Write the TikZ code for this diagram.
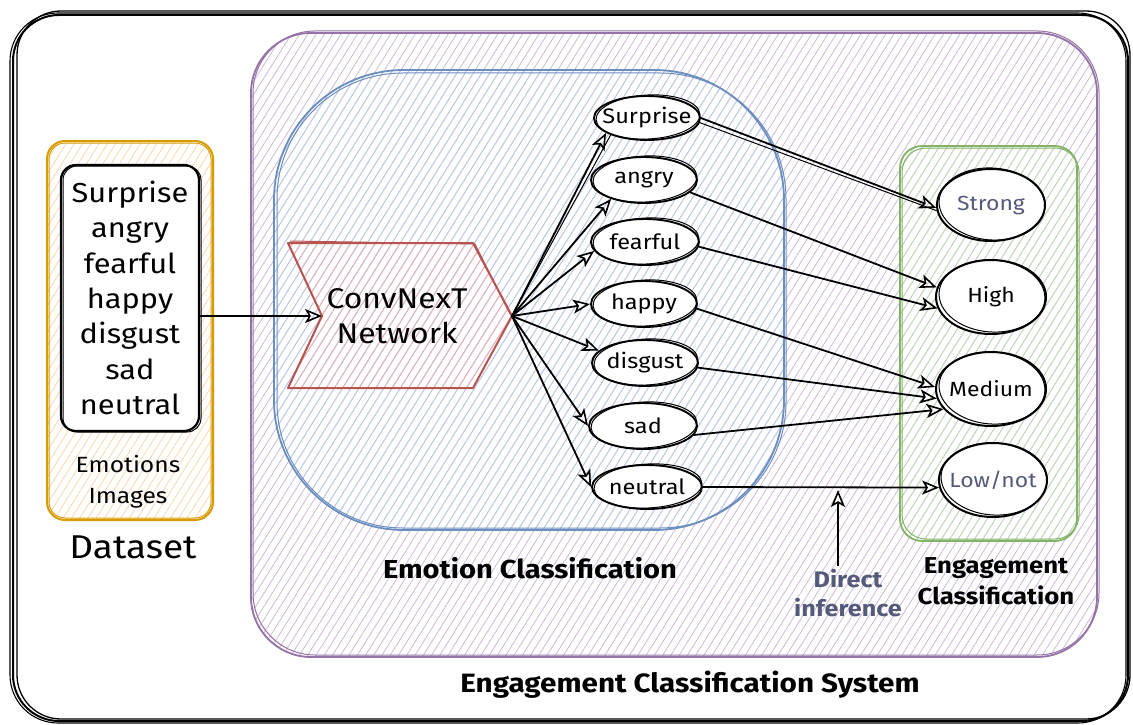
\documentclass[tikz,border=0pt]{standalone}
\usepackage{fontspec}
\setmainfont[FakeStretch=1.12]{Fira Sans}
\usetikzlibrary{shapes.geometric,arrows.meta,patterns.meta}

\definecolor{purplestroke}{HTML}{9673A6}
\definecolor{purplehatch}{HTML}{C9B6DA}
\definecolor{bluestroke}{HTML}{6C8EBF}
\definecolor{bluehatch}{HTML}{B9CDEE}
\definecolor{redstroke}{HTML}{B85450}
\definecolor{redhatch}{HTML}{EFB0AC}
\definecolor{orangestroke}{HTML}{D79B00}
\definecolor{orangehatch}{HTML}{FFD3A8}
\definecolor{greenstroke}{HTML}{82B366}
\definecolor{greenhatch}{HTML}{C2DDB6}
\definecolor{mutedtext}{HTML}{55597A}

\tikzset{
  hatch/.style={pattern={Lines[angle=58,distance=7pt,line width=0.75pt]}, pattern color=#1},
  group/.style={draw=#1, line width=1.8pt},
  emo/.style={ellipse, draw, line width=1.9pt, fill=white, inner xsep=-14pt, inner ysep=-4pt,
    font=\fontsize{21}{24}\selectfont},
  level/.style={ellipse, draw, line width=2pt, fill=white, inner xsep=-16pt, inner ysep=0pt,
    minimum width=108pt, minimum height=72pt, font=\fontsize{20.5}{24}\selectfont},
  sketch/.style={line width=1pt},
  arr/.style={-{Stealth[open,length=17pt,width=14pt,inset=4pt,line width=1.6pt]}, line width=1.8pt},
  title/.style={font=\fontsize{26}{30}\selectfont\bfseries, align=center},
}

\begin{document}
\begin{tikzpicture}[x=1pt,y=-1pt]
\useasboundingbox (0,0) rectangle (1133,725);
\fill[white] (0,0) rectangle (1133,725);

% outer system frame, drawn as a few loose strokes
\draw[line width=2pt, rounded corners=46pt] (13,15) rectangle (1128,721);
\draw[line width=1.3pt, rounded corners=44pt] (17,11) rectangle (1130,719);
\draw[line width=1.1pt, rounded corners=48pt] (10,13) rectangle (1126,723);

% engagement classification system area
\path[hatch=purplehatch, rounded corners=60pt] (251,33) rectangle (1097,657);
\draw[group=purplestroke, rounded corners=60pt] (251,33) rectangle (1097,657);
\draw[purplestroke, line width=1pt, rounded corners=62pt] (253,31) rectangle (1099,655);

% emotion classification area
\path[hatch=bluehatch, rounded corners=130pt] (274,70) rectangle (784,530);
\draw[group=bluestroke, rounded corners=130pt] (274,70) rectangle (784,530);
\draw[bluestroke, line width=1pt, rounded corners=126pt] (277,73) rectangle (786,528);

% engagement levels area
\path[hatch=greenhatch, rounded corners=22pt] (900,146) rectangle (1077,541);
\draw[group=greenstroke, rounded corners=22pt] (900,146) rectangle (1077,541);
\draw[greenstroke, line width=1pt, rounded corners=24pt] (902,148) rectangle (1079,539);

% dataset
\fill[white, rounded corners=18pt] (47,141) rectangle (213,520);
\path[hatch=orangehatch, rounded corners=18pt] (47,141) rectangle (213,520);
\draw[group=orangestroke, line width=2pt, rounded corners=18pt] (47,141) rectangle (213,520);
\draw[orangestroke, line width=1pt, rounded corners=16pt] (49,143) rectangle (211,518);

\node[draw, line width=2.2pt, rounded corners=15pt, fill=white, minimum width=138pt,
      minimum height=266pt, align=center, font=\fontsize{27.5}{35.3}\selectfont]
  (list) at (130,298) {Surprise\\angry\\fearful\\happy\\disgust\\sad\\neutral};
\draw[sketch, rounded corners=14pt] (63,166) rectangle (201,432);

\node[align=center, font=\fontsize{22}{31}\selectfont] (imgs) at (128,482) {Emotions\\Images};
\node[font=\fontsize{33}{36}\selectfont] (dataset) at (133,547) {Dataset};

% ConvNeXt network block
\coordinate (cnnin) at (322,316);
\coordinate (cnnout) at (512,316);
\path[hatch=redhatch] (288,243) -- (473,243) -- (cnnout) -- (473,388) -- (288,388) -- (cnnin) -- cycle;
\draw[redstroke, line width=2pt, line join=round] (288,243) -- (473,243) -- (cnnout) -- (473,388) -- (288,388) -- (cnnin) -- cycle;
\draw[redstroke, line width=1pt] (290,241) -- (475,244) -- (510,314);
\node[align=center, font=\fontsize{28.5}{35}\selectfont] (cnn) at (397,316) {ConvNexT\\Network};

\draw[arr] (list.east |- cnnin) -- (cnnin);

% emotion classes
\foreach \n/\x/\y/\w/\h/\t in {e1/647/118/106/44/Surprise, e2/644/180/106/46/angry,
    e3/645/242/108/46/fearful, e4/644/304/106/46/happy, e5/645/363/106/46/disgust,
    e6/643/426/108/46/sad, e7/647/487/110/44/neutral} {
  \node[emo, minimum width=\w pt, minimum height=\h pt] (\n) at (\x,\y) {\t};
  \draw[sketch] (\x+1,\y-1) ellipse [x radius=\w/2-1, y radius=\h/2, rotate=3];
}

% engagement levels
\node[level, text=mutedtext] (s1) at (991,205) {Strong};
\node[level, minimum width=110pt, minimum height=74pt] (s2) at (991,297) {High};
\node[level, minimum width=110pt, minimum height=74pt] (s3) at (991,389) {Medium};
\node[level, text=mutedtext, minimum height=74pt] (s4) at (993,480) {Low/not};
\foreach \x/\y in {991/205, 991/297, 991/389, 993/480} {
  \draw[sketch] (\x+1,\y-1) ellipse [x radius=53, y radius=36, rotate=-4];
}

% network outputs
\draw[arr] (cnnout) -- (e1.200);
\draw[arr] (cnnout) -- (e2.210);
\draw[arr] (cnnout) -- (e3.190);
\draw[arr] (cnnout) -- (e4.west);
\draw[arr] (cnnout) -- (e5.165);
\draw[arr] (cnnout) -- (e6.west);
\draw[arr] (cnnout) -- (e7.west);
\draw[sketch] (cnnout) -- (e1.205);

% emotion to engagement mapping
\draw[arr] (e1.east) -- (s1.183);
\draw[sketch] (e1.-5) -- (s1.186);
\draw[arr] (e2.-15) -- (s2.170);
\draw[arr] (e3.-5) -- (s2.192);
\draw[arr] (e4.-5) -- (s3.178);
\draw[arr] (e5.-5) -- (s3.190);
\draw[arr] (e6.-10) -- (s3.203);
\draw[arr] (e7.east) -- (s4.188);

% labels
\node[align=center, text=mutedtext, font=\fontsize{22.5}{29}\selectfont\bfseries] (di) at (848,593) {Direct\\inference};
\coordinate (ditip) at (838,490);
\draw[arr] (di.north -| ditip) -- (ditip);

\node[title] (emocls) at (530,568) {Emotion Classification};
\node[title, font=\fontsize{23}{31}\selectfont\bfseries] (engcls) at (996,581) {Engagement\\Classification};
\node[title, font=\fontsize{26.5}{30}\selectfont\bfseries] (system) at (690,685) {Engagement Classification System};
\end{tikzpicture}
\end{document}
